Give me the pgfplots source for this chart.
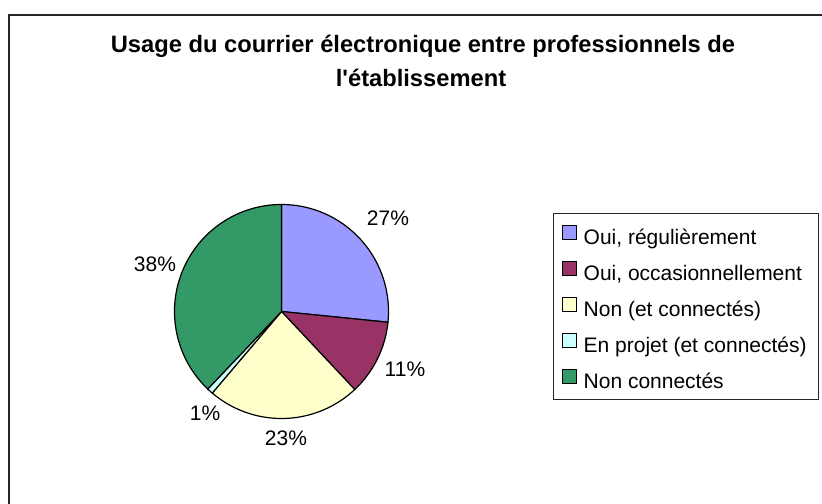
\documentclass[border=0pt]{standalone}
\usepackage{fontspec}
\setmainfont{Liberation Sans}
\usepackage{pgfplots}
\usepackage{pgfplotstable}
\usepgfplotslibrary{polar}
\pgfplotsset{compat=1.18}
\definecolor{pA}{HTML}{9999FF}
\definecolor{pB}{HTML}{993366}
\definecolor{pC}{HTML}{FFFFCC}
\definecolor{pD}{HTML}{CCFFFF}
\definecolor{pE}{HTML}{339966}
\pgfplotstableread{
id value
1 26.6
2 11.4
3 23.2
4 0.9
5 37.9
}\piedata
\pgfplotstablegetelem{0}{value}\of\piedata \let\vA\pgfplotsretval
\pgfplotstablegetelem{1}{value}\of\piedata \let\vB\pgfplotsretval
\pgfplotstablegetelem{2}{value}\of\piedata \let\vC\pgfplotsretval
\pgfplotstablegetelem{3}{value}\of\piedata \let\vD\pgfplotsretval
\pgfplotstablegetelem{4}{value}\of\piedata \let\vE\pgfplotsretval
\pgfmathsetmacro\aA{90}
\pgfmathsetmacro\aB{\aA-3.6*\vA}
\pgfmathsetmacro\aC{\aB-3.6*\vB}
\pgfmathsetmacro\aD{\aC-3.6*\vC}
\pgfmathsetmacro\aE{\aD-3.6*\vD}
\pgfmathsetmacro\aF{\aE-3.6*\vE}
\begin{document}%
\begin{tikzpicture}[x=1bp,y=1bp]
\draw[line width=1.3bp, black!85] (9,0) -- (9,489) -- (822,489);
\node[anchor=base, font=\bfseries\fontsize{23.7bp}{28bp}\selectfont] at (423,451.3) {Usage du courrier électronique entre professionnels de};
\node[anchor=base, font=\bfseries\fontsize{23.7bp}{28bp}\selectfont] at (421,417) {l\textquotesingle établissement};
\draw[line width=1bp, black!85] (553.5,104.7) rectangle (818,290);
\begin{polaraxis}[
  at={(281.5bp,192.5bp)}, anchor=center,
  width=214bp, height=214bp, scale only axis,
  hide axis, ymin=0, ymax=1, clip=false,
  legend image code/.code={\draw[#1, draw=black, line width=1bp] (0bp,0bp) rectangle (14bp,14bp);},
  legend cell align=left,
  legend style={draw=none, fill=none, inner sep=0pt,
    at={(1.8107,0.9066)}, anchor=north west,
    font=\fontsize{21bp}{25bp}\selectfont,
    row sep=11.5bp, column sep=6.5bp,
    nodes={inner sep=0pt, text height=15bp, text depth=5bp}},
]
\addplot[fill=pA, draw=black, line width=1.2bp, domain=\aB:\aA, samples=100] {1} -- (axis cs:0,0) -- cycle;
\addlegendentry{Oui, régulièrement}
\addplot[fill=pB, draw=black, line width=1.2bp, domain=\aC:\aB, samples=60] {1} -- (axis cs:0,0) -- cycle;
\addlegendentry{Oui, occasionnellement}
\addplot[fill=pC, draw=black, line width=1.2bp, domain=\aD:\aC, samples=100] {1} -- (axis cs:0,0) -- cycle;
\addlegendentry{Non (et connectés)}
\addplot[fill=pD, draw=black, line width=1.2bp, domain=\aE:\aD, samples=10] {1} -- (axis cs:0,0) -- cycle;
\addlegendentry{En projet (et connectés)}
\addplot[fill=pE, draw=black, line width=1.2bp, domain=\aF:\aE, samples=140] {1} -- (axis cs:0,0) -- cycle;
\addlegendentry{Non connectés}
\node[font=\fontsize{21bp}{25bp}\selectfont] at (axis cs:41.2,1.322) {27\%};
\node[font=\fontsize{21bp}{25bp}\selectfont] at (axis cs:-25.0,1.273) {11\%};
\node[font=\fontsize{21bp}{25bp}\selectfont] at (axis cs:-88.0,1.183) {23\%};
\node[font=\fontsize{21bp}{25bp}\selectfont] at (axis cs:-127.0,1.188) {1\%};
\node[font=\fontsize{21bp}{25bp}\selectfont] at (axis cs:159.4,1.263) {38\%};
\end{polaraxis}
\pgfresetboundingbox
\useasboundingbox (0,0) rectangle (822,504);
\end{tikzpicture}%
\end{document}
